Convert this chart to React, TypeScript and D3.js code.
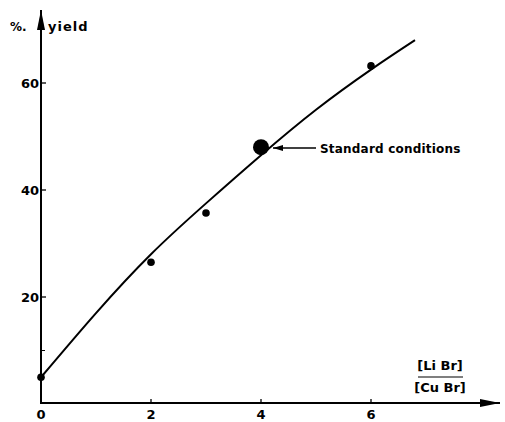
import * as d3 from 'd3';

// measured points (LiBr/CuBr ratio vs % yield)
const ratios = [0, 2, 3, 6];
const yields = [5, 26.5, 35.7, 63.2];

// standard conditions point
const stdRatio = [4];
const stdYield = [48];

// fitted curve
const curveX = [0, 1, 2, 3, 4, 5, 6, 6.8];
const curveY = [5, 17, 28, 37.5, 46.5, 55, 62.5, 68];

const xTicks = [0, 2, 4, 6];
const yTicks = [20, 40, 60];
const yMinor = [10];

const W = 505;
const H = 422;
const font = '"DejaVu Sans", "Liberation Sans", sans-serif';

export default function App() {
  const x = d3.scaleLinear().domain([0, 6]).range([41, 371]);
  const y = d3.scaleLinear().domain([0, 60]).range([404, 83]);

  const line = d3
    .line<number>()
    .x((_, i) => x(curveX[i]))
    .y(d => y(d))
    .curve(d3.curveNatural);

  const x0 = x(0);
  const yAxisY = 403;

  return (
    <svg
      width={W}
      height={H}
      style={{ position: 'absolute', left: 0, top: 0, background: '#fff' }}
    >
      <defs>
        <marker id="arr" viewBox="0 0 10 6" refX="10" refY="3" markerWidth="10" markerHeight="6" orient="auto" markerUnits="userSpaceOnUse">
          <path d="M0,0 L10,3 L0,6 Z" fill="#000" />
        </marker>
        <marker id="arrBig" viewBox="0 0 20 8" refX="20" refY="4" markerWidth="20" markerHeight="8" orient="auto" markerUnits="userSpaceOnUse">
          <path d="M0,0 L20,4 L0,8 Z" fill="#000" />
        </marker>
      </defs>

      {/* axes */}
      <line x1={x0} y1={yAxisY + 1} x2={x0} y2={10} stroke="#000" strokeWidth={2} markerEnd="url(#arrBig)" />
      <line x1={x0 - 1} y1={yAxisY} x2={500} y2={yAxisY} stroke="#000" strokeWidth={2} markerEnd="url(#arrBig)" />

      {/* y ticks */}
      {yTicks.map(t => (
        <g key={t}>
          <line x1={x0} x2={x0 + 5} y1={y(t)} y2={y(t)} stroke="#000" strokeWidth={1.3} />
          <text x={x0 - 2} y={y(t) + 5} textAnchor="end" fontFamily={font} fontSize={13} fontWeight="bold">
            {t}
          </text>
        </g>
      ))}
      {yMinor.map(t => (
        <line key={t} x1={x0} x2={x0 + 4} y1={y(t)} y2={y(t)} stroke="#000" strokeWidth={1} />
      ))}

      {/* x ticks */}
      {xTicks.map(t => (
        <g key={t}>
          {t > 0 && <line x1={x(t)} x2={x(t)} y1={yAxisY} y2={yAxisY - 4} stroke="#000" strokeWidth={1.3} />}
          <text x={x(t)} y={419} textAnchor="middle" fontFamily={font} fontSize={13} fontWeight="bold">
            {t}
          </text>
        </g>
      ))}

      {/* axis titles */}
      <text x={10} y={31} fontFamily={font} fontSize={12} fontWeight="bold">%.</text>
      <text x={48} y={31} fontFamily={font} fontSize={13} fontWeight="bold" letterSpacing={1}>yield</text>

      <text x={440} y={370} textAnchor="middle" fontFamily={font} fontSize={13} fontWeight="bold">[Li Br]</text>
      <line x1={418} x2={463} y1={377} y2={377} stroke="#000" strokeWidth={1.2} />
      <text x={440} y={392} textAnchor="middle" fontFamily={font} fontSize={13} fontWeight="bold">[Cu Br]</text>

      {/* curve */}
      <path d={line(curveY) ?? ''} fill="none" stroke="#000" strokeWidth={2} />

      {/* points */}
      {ratios.map((r, i) => (
        <circle key={r} cx={x(r)} cy={y(yields[i])} r={3.8} fill="#000" />
      ))}
      {stdRatio.map((r, i) => (
        <circle key={r} cx={x(r)} cy={y(stdYield[i])} r={8} fill="#000" />
      ))}

      {/* annotation */}
      <line x1={316} x2={273} y1={148} y2={148} stroke="#000" strokeWidth={1.3} markerEnd="url(#arr)" />
      <text x={320} y={153} fontFamily={font} fontSize={12} fontWeight="bold" letterSpacing={0.2}>
        Standard conditions
      </text>
    </svg>
  );
}
